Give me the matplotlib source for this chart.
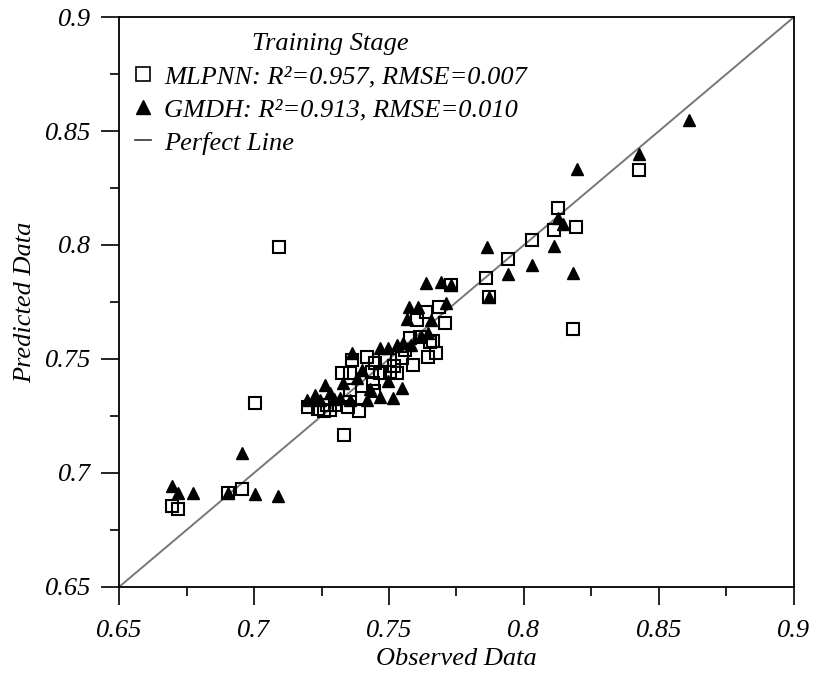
import matplotlib.pyplot as plt
from matplotlib.lines import Line2D
from matplotlib.ticker import MultipleLocator

# Data
# ------------------------------------------------------------------------------

mlp_obs = [0.6695, 0.6720, 0.6903, 0.6954, 0.7004, 0.7093, 0.7201, 0.7238,
           0.7260, 0.7281, 0.7300, 0.7325, 0.7333, 0.7349, 0.7356, 0.7356,
           0.7362, 0.7390, 0.7417, 0.7436, 0.7439, 0.7444, 0.7448, 0.7467,
           0.7485, 0.7504, 0.7528, 0.7547, 0.7578, 0.7590, 0.7602, 0.7615,
           0.7636, 0.7646, 0.7650, 0.7664, 0.7674, 0.7685, 0.7709, 0.7730,
           0.7859, 0.7871, 0.7941, 0.8031, 0.8111, 0.8125, 0.8183, 0.8193,
           0.8427, 0.7520, 0.7560, 0.7400, 0.7270]
mlp_pred = [0.6855, 0.6841, 0.6911, 0.6928, 0.7306, 0.7991, 0.7288, 0.7279,
            0.7270, 0.7276, 0.7300, 0.7437, 0.7167, 0.7288, 0.7437, 0.7364,
            0.7496, 0.7273, 0.7510, 0.7444, 0.7396, 0.7361, 0.7481, 0.7440,
            0.7496, 0.7444, 0.7440, 0.7503, 0.7591, 0.7474, 0.7671, 0.7598,
            0.7707, 0.7507, 0.7576, 0.7580, 0.7525, 0.7727, 0.7659, 0.7825,
            0.7854, 0.7773, 0.7938, 0.8022, 0.8066, 0.8161, 0.7630, 0.8078,
            0.8329, 0.7470, 0.7540, 0.7330, 0.7300]

gmdh_obs = [0.6698, 0.6720, 0.6775, 0.6903, 0.6957, 0.7004, 0.7090, 0.7197,
            0.7226, 0.7246, 0.7263, 0.7296, 0.7331, 0.7356, 0.7362, 0.7380,
            0.7418, 0.7467, 0.7467, 0.7497, 0.7497, 0.7516, 0.7528, 0.7547,
            0.7553, 0.7565, 0.7575, 0.7609, 0.7637, 0.7646, 0.7656, 0.7691,
            0.7711, 0.7730, 0.7862, 0.7871, 0.7941, 0.8031, 0.8111, 0.8125,
            0.8143, 0.8183, 0.8195, 0.8427, 0.8612, 0.7430, 0.7400, 0.7580,
            0.7620, 0.7320, 0.7280]
gmdh_pred = [0.6943, 0.6911, 0.6911, 0.6911, 0.7089, 0.6908, 0.6899, 0.7320,
             0.7342, 0.7320, 0.7386, 0.7325, 0.7396, 0.7320, 0.7528, 0.7415,
             0.7320, 0.7335, 0.7550, 0.7405, 0.7550, 0.7327, 0.7561, 0.7372,
             0.7569, 0.7674, 0.7727, 0.7730, 0.7832, 0.7615, 0.7671, 0.7839,
             0.7744, 0.7825, 0.7993, 0.7773, 0.7873, 0.7912, 0.7997, 0.8117,
             0.8092, 0.7879, 0.8333, 0.8399, 0.8548, 0.7370, 0.7450, 0.7560,
             0.7600, 0.7330, 0.7350]

perfect = [0.65, 0.9]

# Plot
# ------------------------------------------------------------------------------

plt.rcParams['font.family'] = 'Liberation Serif'
plt.rcParams['font.style'] = 'italic'

fig = plt.figure(figsize=(8.13, 6.75), dpi=100)
ax = fig.add_axes([0.1464, 0.1304, 0.8302, 0.8444])

ax.plot(perfect, perfect, color='#777777', lw=1.4, zorder=1)
ax.plot(gmdh_obs, gmdh_pred, ls='none', marker='^', ms=8, color='black',
        mec='black', zorder=2)
ax.plot(mlp_obs, mlp_pred, ls='none', marker='s', ms=8, mfc='none',
        mec='black', mew=1.5, zorder=3)

ax.set_xlim(0.65, 0.9)
ax.set_ylim(0.65, 0.9)
ax.xaxis.set_major_locator(MultipleLocator(0.05))
ax.xaxis.set_minor_locator(MultipleLocator(0.025))
ax.yaxis.set_major_locator(MultipleLocator(0.05))
ax.yaxis.set_minor_locator(MultipleLocator(0.025))
ax.set_xticklabels([f'{v:g}' for v in ax.get_xticks()])
ax.set_yticklabels([f'{v:g}' for v in ax.get_yticks()])
ax.tick_params(which='major', direction='out', length=13, width=1.2,
               labelsize=19)
ax.tick_params(which='minor', direction='out', length=6.5, width=1.2)
ax.tick_params(axis='x', which='major', pad=11)
ax.tick_params(axis='y', which='major', pad=7)
for sp in ax.spines.values():
    sp.set_linewidth(1.3)

ax.set_xlabel('Observed Data', fontsize=19, labelpad=4)
ax.set_ylabel('Predicted Data', fontsize=19, labelpad=6)

handles = [
    Line2D([], [], ls='none', marker='s', ms=10, mfc='none', mec='black', mew=1.2),
    Line2D([], [], ls='none', marker='^', ms=10, color='black'),
    Line2D([], [], color='#333333', lw=1.2),
]
labels = ['MLPNN: R²=0.957, RMSE=0.007',
          'GMDH: R²=0.913, RMSE=0.010',
          'Perfect Line']
leg = ax.legend(handles, labels, title='Training Stage', loc='upper left',
                bbox_to_anchor=(0.0, 1.0), frameon=False, fontsize=19,
                title_fontsize=19, handlelength=0.6, handletextpad=0.5,
                labelspacing=0.37, borderaxespad=0.2)
leg.get_title().set_style('italic')

plt.savefig('out.png', dpi=100)
